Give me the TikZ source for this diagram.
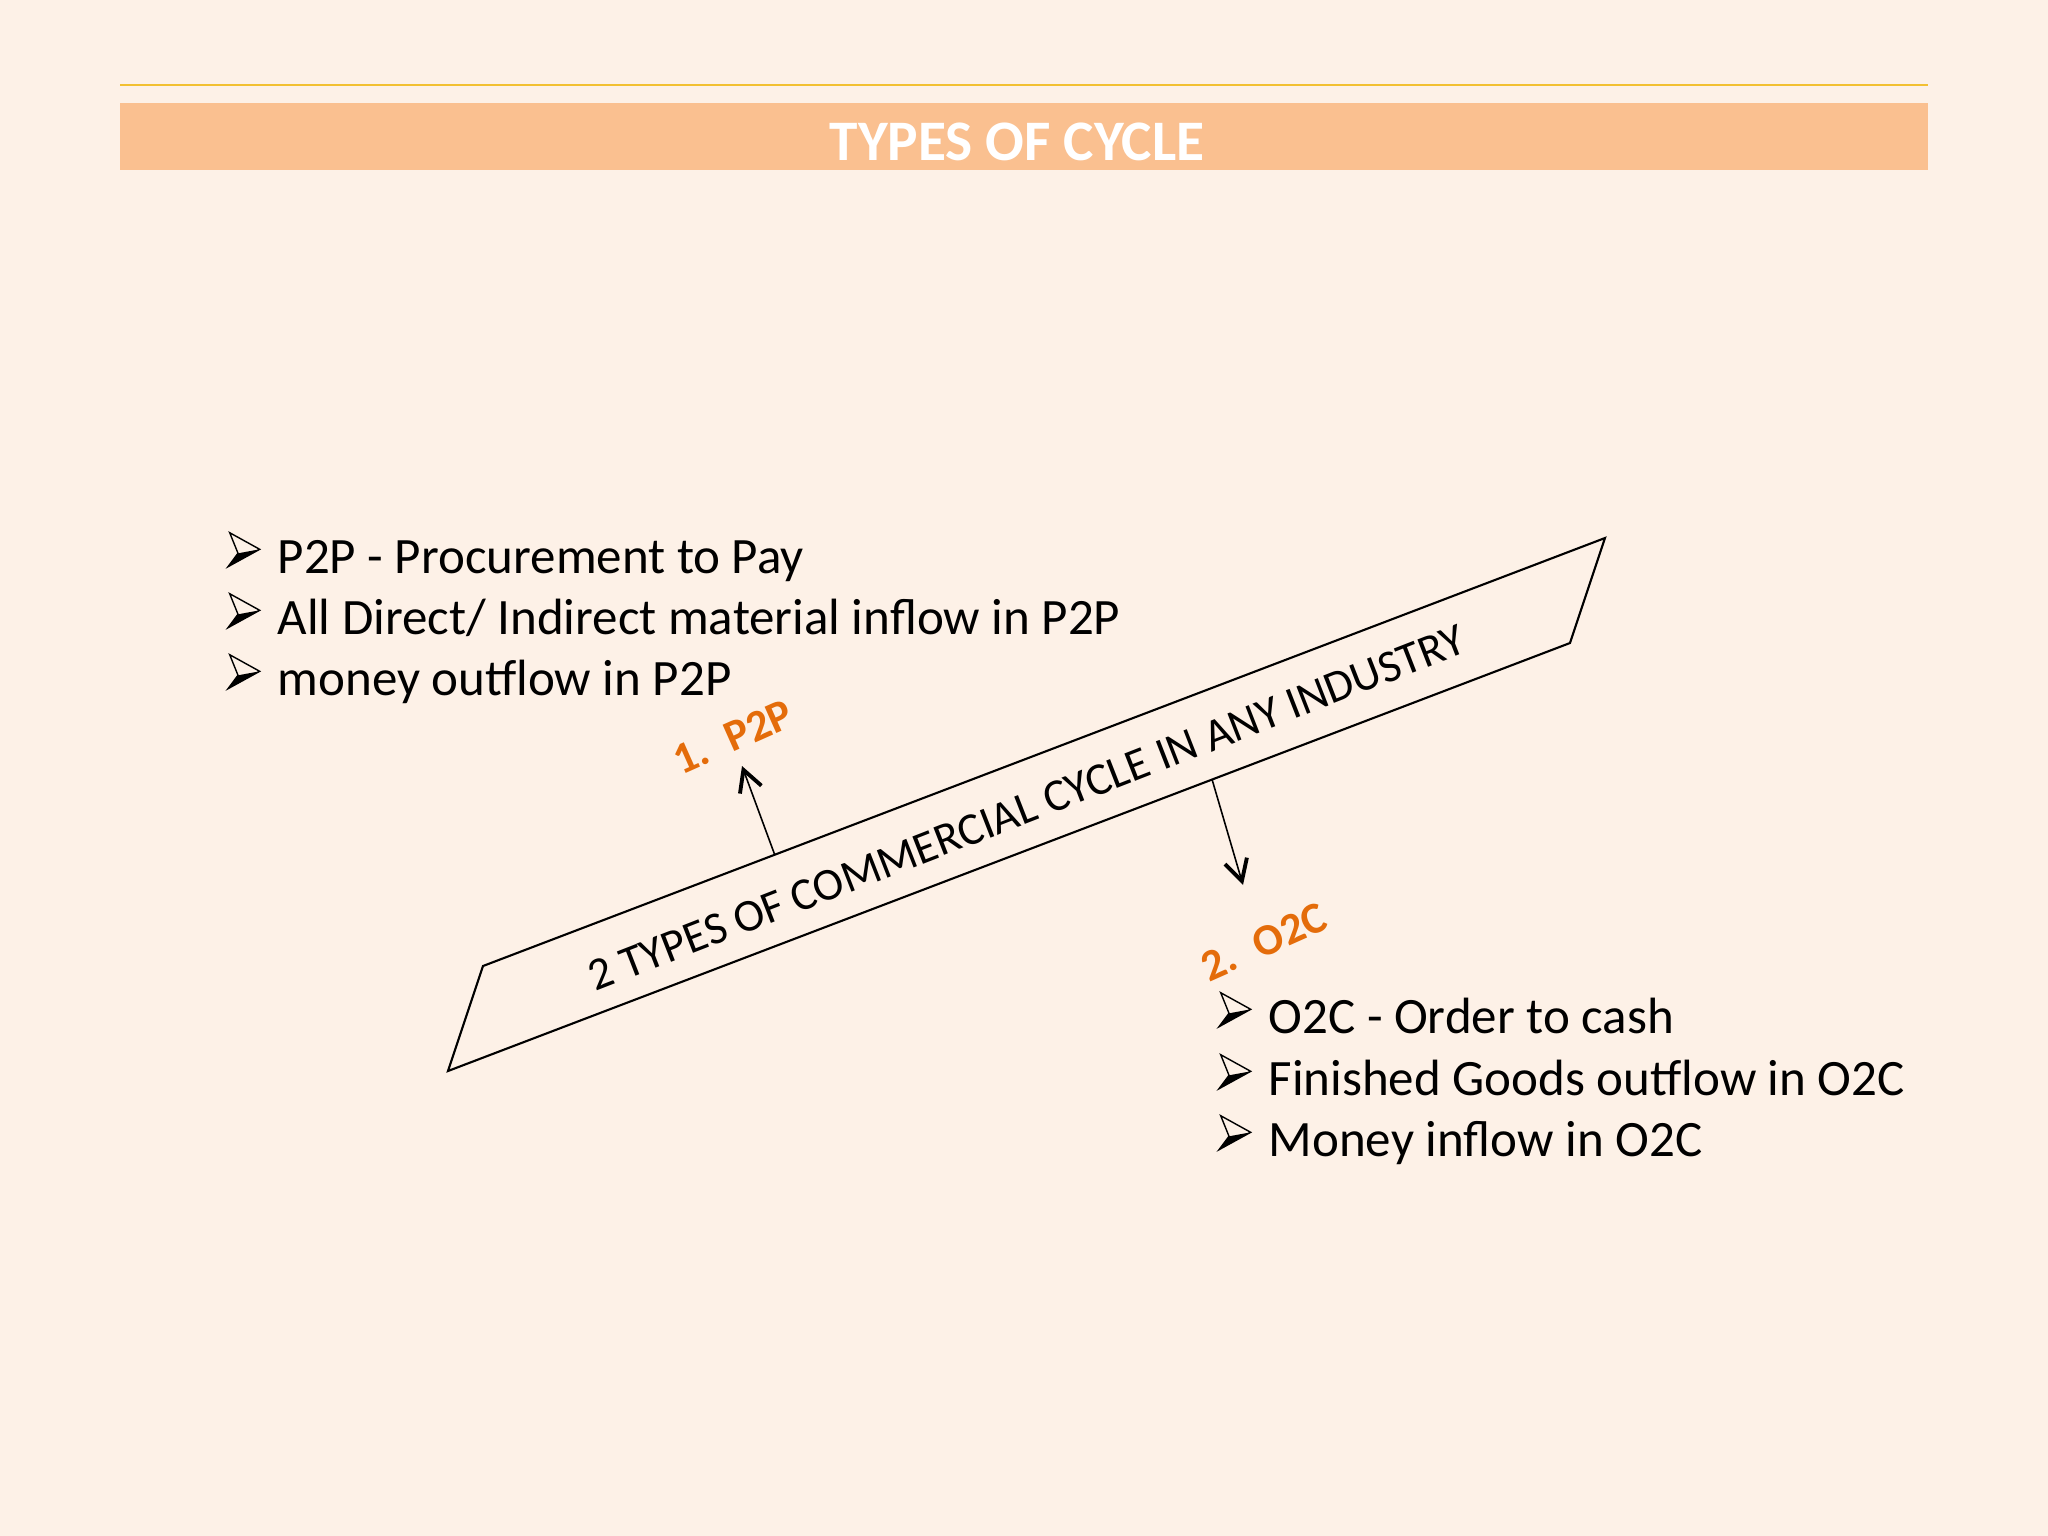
\documentclass[tikz,border=0pt]{standalone}
\usepackage{fontspec}
\setmainfont{Carlito}
\usetikzlibrary{arrows.meta,calc}
\definecolor{bgc}{RGB}{253,241,231}
\definecolor{barc}{RGB}{250,192,144}
\definecolor{linec}{RGB}{242,192,50}
\definecolor{orc}{RGB}{228,108,10}
\tikzset{
  btext/.style={font=\fontsize{14.5}{17}\selectfont, inner sep=0pt, anchor=base west},
  lab/.style={font=\bfseries\fontsize{12.6}{14}\selectfont, text=orc, inner sep=0pt, rotate=24},
  arr/.style={line width=0.45pt, -{Straight Barb[length=6pt,width=6.5pt,line width=1.1pt]}},
  bul/.pic={
    \draw[line width=0.4pt, line join=miter, fill=bgc] (31.7,-23.7) -- (1.7,-40.3) -- (10,-19.7) -- (0,-6.3) -- cycle;
    \fill (31.7,-23.7) -- (10,-19.7) -- (0,-6.3) -- cycle;
  }
}
\begin{document}
\begin{tikzpicture}[x=0.01cm,y=-0.01cm]
\fill[bgc] (0,0) rectangle (2048,1536);
\useasboundingbox (0,0) rectangle (2048,1536);
% header
\draw[linec, line width=0.6pt] (120,85) -- (1928,85);
\fill[barc] (120,103) rectangle (1928,170);
\node[font=\bfseries\fontsize{16.3}{19}\selectfont, text=white, anchor=base, inner sep=0pt] (title) at (1017,160) {TYPES OF CYCLE};
% left bullets
\pic at (228,573) {bul};
\pic at (228,634) {bul};
\pic at (228,695) {bul};
\node[btext] (l1) at (277,573) {P2P - Procurement to Pay};
\node[btext] (l2) at (277,634) {All Direct/ Indirect material inflow in P2P};
\node[btext] (l3) at (277,695) {money outflow in P2P};
% right bullets
\pic at (1219,1033) {bul};
\pic at (1219,1095) {bul};
\pic at (1219,1156) {bul};
\node[btext] (r1) at (1268,1033) {O2C - Order to cash};
\node[btext] (r2) at (1268,1095) {Finished Goods outflow in O2C};
\node[btext] (r3) at (1268,1156) {Money inflow in O2C};
% parallelogram
\coordinate (A) at (483,966);
\coordinate (B) at (1605,538);
\coordinate (C) at (1570,643);
\coordinate (D) at (448,1071);
\draw[line width=0.6pt, line join=miter] (A) -- (B) -- (C) -- (D) -- cycle;
\node[rotate=21.3, font=\fontsize{13}{15}\selectfont, inner sep=0pt] (main) at (1027,808) {2 TYPES OF COMMERCIAL CYCLE IN ANY INDUSTRY};
% labels
\node[lab] (p2p) at (733,737) {1.\hspace{0.5em}P2P};
\node[lab] (o2c) at (1264,942) {2.\hspace{0.5em}O2C};
% arrows
\coordinate (a1s) at ($(A)!0.26!(B)$);
\coordinate (a1e) at (742,766);
\coordinate (a2s) at ($(D)!0.681!(C)$);
\coordinate (a2e) at (1243,885);
\draw[arr] (a1s) -- (a1e);
\draw[arr] (a2s) -- (a2e);
\end{tikzpicture}
\end{document}
